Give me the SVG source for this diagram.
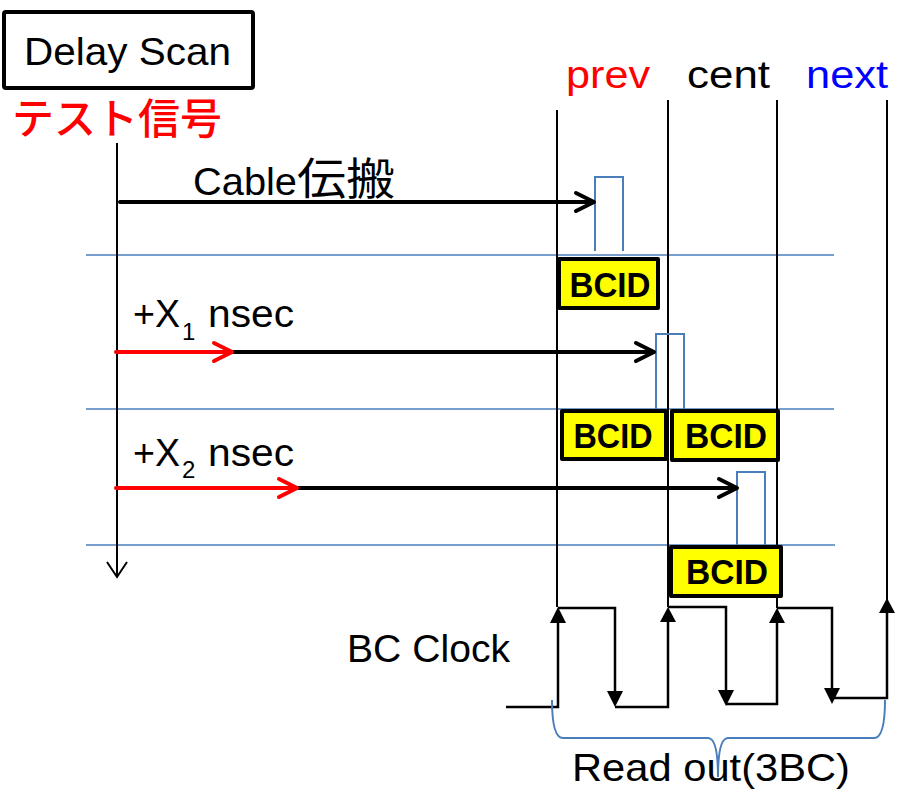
<svg xmlns="http://www.w3.org/2000/svg" width="897" height="794" viewBox="0 0 897 794">
<style>
text{font-family:"Liberation Sans","Noto Sans CJK JP",sans-serif;fill:#000}
.cjk{font-family:"Noto Sans CJK JP",sans-serif}
.lbl{font-size:39px}
.bcid{font-weight:bold;font-size:35px;text-anchor:middle}
.box{fill:#FFFF00;stroke:#000;stroke-width:4;stroke-linejoin:round}
.grid{stroke:#000;stroke-width:2;fill:none}
.hline{stroke:#4A7EBB;stroke-width:1.5;fill:none}
.pulse{stroke:#4A7EBB;stroke-width:2;fill:none}
.sig{stroke:#000;stroke-width:4;fill:none;stroke-linecap:round;stroke-linejoin:round}
.red{stroke:#FF0000}
.clk{stroke:#000;stroke-width:2.5;fill:none}
.head{fill:#000}
</style>
<rect width="897" height="794" fill="#fff"/>

<g id="title">
<rect x="4" y="12" width="249" height="76" rx="2" fill="#fff" stroke="#000" stroke-width="4"/>
<text x="24" y="65" font-size="39" textLength="207" lengthAdjust="spacingAndGlyphs">Delay Scan</text>
</g>
<g id="test-signal">
<text class="cjk" x="12" y="134" font-size="42" textLength="210" lengthAdjust="spacingAndGlyphs" style="fill:#FF0000;font-weight:500">テスト信号</text>
</g>

<g id="bc-labels">
<text class="lbl" x="566" y="88" textLength="84" lengthAdjust="spacingAndGlyphs" style="fill:#FF0000">prev</text>
<text class="lbl" x="687" y="88" textLength="83" lengthAdjust="spacingAndGlyphs">cent</text>
<text class="lbl" x="806" y="88" textLength="82" lengthAdjust="spacingAndGlyphs" style="fill:#0000FF">next</text>
</g>

<g id="horizontal-separators">
<line class="hline" x1="86" y1="255" x2="834" y2="255"/>
<line class="hline" x1="86" y1="409" x2="834" y2="409"/>
<line class="hline" x1="86" y1="545" x2="835" y2="545"/>
</g>

<g id="grid-lines">
<line class="grid" x1="557" y1="110" x2="557" y2="607"/>
<line class="grid" x1="668" y1="100" x2="668" y2="607"/>
<line class="grid" x1="777" y1="100" x2="777" y2="608"/>
<line class="grid" x1="887" y1="100" x2="887" y2="600"/>
</g>

<g id="time-axis">
<line x1="117" y1="143" x2="117" y2="576" stroke="#000" stroke-width="2"/>
<polyline points="107,562 117,577 127,562" fill="none" stroke="#000" stroke-width="2"/>
</g>

<g id="pulses">
<polyline class="pulse" points="595,251 595,177 623,177 623,251"/>
<polyline class="pulse" points="656,409 656,334 684,334 684,409"/>
<polyline class="pulse" points="737,545 737,472 765,472 765,545"/>
</g>

<g id="connectors">
<line class="sig" x1="120" y1="202" x2="593" y2="202"/>
<polyline class="sig" points="576,193 594,202 576,211"/>
<line class="sig" x1="180" y1="352" x2="653" y2="352"/>
<polyline class="sig" points="636,343 654,352 636,361"/>
<line class="sig red" x1="116" y1="352" x2="231" y2="352"/>
<polyline class="sig red" points="214,343 232,352 214,361"/>
<line class="sig" x1="250" y1="488" x2="736" y2="488"/>
<polyline class="sig" points="719,479 737,488 719,497"/>
<line class="sig red" x1="116" y1="488" x2="296" y2="488"/>
<polyline class="sig red" points="279,479 297,488 279,497"/>
</g>

<g id="cable-label">
<text x="193" y="195"><tspan font-size="39" textLength="104" lengthAdjust="spacingAndGlyphs">Cable</tspan><tspan class="cjk" x="297" font-size="44" textLength="98" lengthAdjust="spacingAndGlyphs">伝搬</tspan></text>
</g>
<g id="x1-label">
<text y="327" font-size="39"><tspan x="133" textLength="47" lengthAdjust="spacingAndGlyphs">+X</tspan><tspan x="182" y="340" font-size="24">1</tspan><tspan x="208" y="327" textLength="86" lengthAdjust="spacingAndGlyphs">nsec</tspan></text>
</g>
<g id="x2-label">
<text y="466" font-size="39"><tspan x="133" textLength="47" lengthAdjust="spacingAndGlyphs">+X</tspan><tspan x="182" y="478" font-size="24">2</tspan><tspan x="208" y="466" textLength="86" lengthAdjust="spacingAndGlyphs">nsec</tspan></text>
</g>

<g id="bcid-1">
<rect class="box" x="559" y="259" width="99" height="49"/>
<text class="bcid" x="610" y="297" textLength="81" lengthAdjust="spacingAndGlyphs">BCID</text>
</g>
<g id="bcid-2a">
<rect class="box" x="562" y="411" width="104" height="48"/>
<text class="bcid" x="613" y="448" textLength="79" lengthAdjust="spacingAndGlyphs">BCID</text>
</g>
<g id="bcid-2b">
<rect class="box" x="672" y="411" width="106" height="49"/>
<text class="bcid" x="726" y="448" textLength="82" lengthAdjust="spacingAndGlyphs">BCID</text>
</g>
<g id="bcid-3">
<rect class="box" x="671" y="547" width="110" height="49"/>
<text class="bcid" x="727" y="584" textLength="82" lengthAdjust="spacingAndGlyphs">BCID</text>
</g>

<g id="bc-clock">
<text x="347" y="662" font-size="39" textLength="163" lengthAdjust="spacingAndGlyphs">BC Clock</text>
<polyline class="clk" points="506,707 558,707 558,622"/>
<path class="head" d="M550,623 L566,623 L558,607 Z"/>
<polyline class="clk" points="558,608 615,608 615,692"/>
<path class="head" d="M607,691 L623,691 L615,707 Z"/>
<polyline class="clk" points="615,707 668,707 668,622"/>
<path class="head" d="M660,622 L676,622 L668,607 Z"/>
<polyline class="clk" points="668,607 726,607 726,690"/>
<path class="head" d="M718,690 L734,690 L726,706 Z"/>
<polyline class="clk" points="726,704 777,704 777,623"/>
<path class="head" d="M769,623 L785,623 L777,608 Z"/>
<polyline class="clk" points="777,608 832,608 832,688"/>
<path class="head" d="M824,688 L840,688 L832,704 Z"/>
<polyline class="clk" points="832,698 887,698 887,613"/>
<path class="head" d="M879,613 L895,613 L887,598 Z"/>
</g>

<g id="readout">
<path d="M552,700 Q552,738 563,738 L708,738 Q718,738 718,777 Q718,738 728,738 L874,738 Q885,738 885,700" fill="none" stroke="#4A7EBB" stroke-width="2"/>
<text x="572" y="781" font-size="39" textLength="278" lengthAdjust="spacingAndGlyphs">Read out(3BC)</text>
</g>
</svg>
